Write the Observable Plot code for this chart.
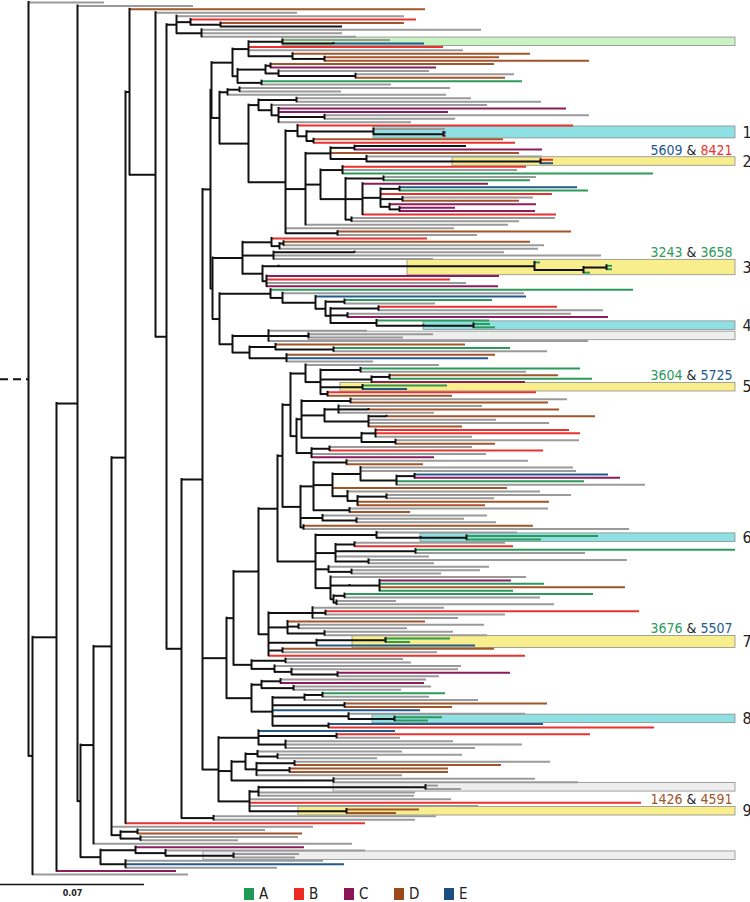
<!DOCTYPE html>
<html><head><meta charset="utf-8">
<script src="https://cdn.jsdelivr.net/npm/d3@7"></script>
<script src="https://cdn.jsdelivr.net/npm/@observablehq/plot@0.6"></script>
<style>
body{margin:0;background:#fff;}
#wrap{width:750px;position:relative;}
#legend{display:flex;height:16px;align-items:center;padding-left:244px;font-family:"Liberation Sans Narrow","DejaVu Sans Condensed","Open Sans",sans-serif;font-size:15px;color:#222;}
#legend .item{display:flex;align-items:center;width:50px;}
#legend .sw{display:inline-block;width:10px;height:12px;margin-right:5px;}
</style></head><body><div id="wrap"></div><script>
// ---- clade legend ----
const cladeNames = ["A","B","C","D","E"];
const cladeColors = ["#2b9a5a","#e8322f","#8c1c5e","#a2552a","#225a8c"];
const legendColors = ["#1e9a55","#ef2923","#8b1557","#9a4a1a","#1d4e80"];
const otherNames = ["g","k"];          // unassigned (grey), dark
const otherColors = ["#9a9a9a","#151515"];

// ---- distance unit: tree values are in units where the 0.07 scale bar = 144 units
const DIST = 0.07 / 144;
const SCALE_BAR = 0.07;

// ---- highlighted sequence pairs ----
const boxIds    = ["0","1","2","3","4","g1","5","6","7","8","11","9","10"];
const boxStart  = [282,373,452,407,423,308,340,420,352,372,333,298,203];
const boxKind   = ["green","cyan","yellow","yellow","cyan","gray","yellow","cyan","yellow","cyan","gray","yellow","gray"];
const boxNumber = ["","1","2","3","4","","5","6","7","8","","9",""];
const boxKinds  = ["green","cyan","yellow","gray"];
const boxFills  = ["#c9f3c3","#8fe0e2","#f8ee8c","#eeeeee"];

const pairBox   = ["2","3","5","7","9"];
const pairFirst = ["5609","3243","3604","3676","1426"];
const pairSecond= ["8421","3658","5725","5507","4591"];
const pairFirstClade  = ["E","A","A","A","D"];
const pairSecondClade = ["B","A","E","E","D"];

// ---- tree (leaf = clade:distance[#box], node = (...):distance; distances from the stem origin) ----
const T176 = "(g:404,(B:416,(D:404,k:342):220):190,(g:481,g:342,g:356):201):176";
const T248 = "((g:390#0,(E:424#0):333):282,B:443,g:463,(D:530,(D:499,D:589):324):292):248";
const T237 = "(((D:494,C:436):270,(g:429,(g:514,D:505):355):278):265,(A:522,g:391):261):237";
const T227 = "((g:450,g:341):239,g:446):227";
const T258 = "((g:471,g:541):296,(g:487,(C:566,C:448,(g:589,g:455):324,g:411):278):271):258";
const T330 = "((k:466,C:542):354,D:519,(g:542,(B:553#2,E:553#2):540):366):330";
const T350 = "((g:536,A:530):383,(C:488,((E:577,A:588):399,B:552,(g:533,D:519):402,(C:536,(C:455,C:535):399):389):380,B:556):362,(g:555,g:519):351):345";
const T342 = "(B:526,g:517,A:653):342";
const T285a = "(B:573,((g:445#1,(E:446#1,B:446#1):443):373,(D:503,B:515):313):306):297";
const T285z = "(D:571,g:477):337";
const T271 = "(B:427,((D:530,g:544):283,g:538):279):271";
const T273 = "((g:504):354,g:601,g:433):273";
const T278 = "((A:540#3,((A:612#3,A:612#3):606,A:590#3):583):534):278";
const T266 = "(C:499,B:450,g:466,C:498):266";
const T270 = "(A:633,(g:524,(E:526,((A:492,g:435):344,((B:557,g:603):378,(g:571,C:608):347,(A:489,((A:490#4,A:495#4):473):423):376):330):325):315):282):270";
const T232c = "((g:367,(g:433#g1,g:403#g1):308,g:588):268,((D:465,(A:510,g:547):333):275,(D:495,E:488,g:373):286):249):232";
const T305 = "(g:439,((A:580,g:526):360,((D:558,A:592):389,C:525):371,(A:447#5,E:407#5):362,(B:536,D:452):327):320):305";
const T296 = "(((g:567,D:548):350,((g:482,(D:559):368,g:434):338,((D:595):386,g:496,g:549,D:462):368):324,((B:569,B:580,g:472):375,(g:579,D:495):395):361):301,((g:472,B:543):329,g:486,C:434):311):296";
const T300 = "(((g:528,D:423):346,((g:573,g:576,((E:608,C:620):414,A:584,g:645):396):360,D:507,(g:540,((g:571,g:494):386,D:549,D:485):357):347):332,(g:548,D:410):349):313,(g:487,(g:464,g:496):356):322,(D:533,g:629):303):300";
const T315 = "((g:517,((A:598#6,A:541#6):466):420):376,((g:505,B:513):354,(A:735,g:585):415,g:429,(g:627,g:434):368):335,(g:489,(g:480,g:441):351):328,(g:526,((C:511,A:544,D:625,A:513):379):349,((A:593,g:540):344,(g:396,g:554):336):333):330):315";
const T312 = "(g:444,(B:639,g:505):325,g:458):312";
const T287 = "(D:425,(g:484,g:407):298,(g:453,g:487):324):287";
const T316 = "((A:450#7,A:410#7):385,E:475#7):316";
const T268tail = "(D:494,g:437):282,B:525";
const T251 = "((g:403,g:411):285,(g:461,(g:458,(C:510,g:439):337):291):274):251";
const T251c = "(((g:426,C:424):280,(g:431,g:401):293):261,(((A:445,g:429):322,g:478):304,(D:547,D:452):344,E:420,(g:525,(A:442#8,A:428#8):394):348,(E:543,B:654):328):272):251";
const T258m = "(E:395,(B:590,g:400):336,(g:453,g:522,g:475):285):258";
const T245 = "((g:402,(g:462,g:377):277):257,((g:550,D:501):294,(D:448,D:448):289,g:402):256):245";
const T249 = "(((g:438#11,g:461#11):425,g:415,g:414):258,g:451,B:641,g:478,(D:419#9,D:396#9):346):249";
const T213 = "(g:436,g:415):213";
const T120 = "((g:265,D:302):137,(g:298,g:238):140):120";
const T100 = "((C:304,(g:365,(g:299#10,g:295#10):233):165):135,(g:323,E:344,g:277):125):100";

// assemble
const T320 = "(" + T342 + "," + T350 + "):320";
const T285 = "(" + T285a + ",(" + T330 + "," + T320 + ",g:508):305,g:454," + T285z + "):285";
const T211 = "((" + T248 + "," + T237 + "):232,(" + T227 + ",(" + T258 + "," + T285 + "):248):219):211";
const T242 = "(" + T271 + "," + T273 + ",(" + T278 + "," + T266 + "):262):242";
const T219b = "(" + T270 + "," + T232c + "):219";
const T268 = "(" + T312 + "," + T287 + "," + T316 + "," + T268tail + "):268";
const T226 = "((((((" + T305 + "," + T296 + "):290," + T300 + "):282," + T315 + "):277," + T268 + "):258," + T251 + "):233," + T251c + "):226";
const T218 = "(" + T258m + ",(" + T245 + ",(g:535,g:578):333):231," + T249 + "):218";
const T210 = "(" + T211 + ",(" + T242 + "," + T219b + "):212):210";
const T202 = "(" + T210 + "," + T226 + "," + T218 + "):202";
const T166 = "(" + T176 + ",(" + T202 + "," + T213 + "):181):166";
const N125 = "((D:425,(g:297," + T166 + "):155):129,B:365):125";
const N93 = "((" + N125 + ",g:313," + T120 + "):111,g:352):93";
const TREE = "(g:104,(((g:193,(" + N93 + "," + T100 + "):80):77,C:176):56,g:188):32):28";

// ---- parser ----
function parse(s){
  let i=0;
  function node(){
    const n={children:[]};
    if(s[i]==="("){ i++; n.children.push(node()); while(s[i]===","){i++; n.children.push(node());} i++; }
    else { const st=i; while(i<s.length && !":,()".includes(s[i])) i++; n.clade=s.slice(st,i); }
    if(s[i]===":"){ i++; const st=i; while(i<s.length && /[0-9.]/.test(s[i])) i++; n.depth=+s.slice(st,i);
      if(s[i]==="#"){ i++; const b=i; while(i<s.length && /[A-Za-z0-9]/.test(s[i])) i++; n.box=s.slice(b,i);} }
    return n;
  }
  return node();
}
function colorOf(c){
  const a=cladeNames.indexOf(c); if(a>=0) return cladeColors[a];
  const b=otherNames.indexOf(c); return b>=0?otherColors[b]:"#999";
}
const root = parse(TREE);
const leaves=[]; let idx=0;
(function lay(n){
  if(!n.children.length){ n.y=idx++; leaves.push(n); }
  else { n.children.forEach(lay); n.y=(n.children[0].y+n.children[n.children.length-1].y)/2; }
})(root);
const nLeaves = leaves.length;
const leafSegs=[], nodeSegs=[], vSegs=[];
(function walk(n,pd){
  if(pd!=null){
    const seg={x1:pd*DIST,x2:n.depth*DIST,y:n.y};
    if(n.children.length) nodeSegs.push(seg); else { seg.stroke=colorOf(n.clade); leafSegs.push(seg); }
  }
  if(n.children.length){
    vSegs.push({x:n.depth*DIST,y1:n.children[0].y,y2:n.children[n.children.length-1].y});
    n.children.forEach(c=>walk(c,n.depth));
  }
})(root,null);
const stem=[{x1:0,x2:root.depth*DIST,y:root.y}];

const maxDepth = d3.max(leaves,d=>d.depth);
const boxes = boxIds.map((id,i)=>{
  const ls = leaves.filter(l=>l.box===id);
  return {id, x1:boxStart[i]*DIST, x2:maxDepth*DIST, y1:d3.min(ls,l=>l.y)-0.75, y2:d3.max(ls,l=>l.y)+0.75,
          fill: boxFills[boxKinds.indexOf(boxKind[i])], num: boxNumber[i]};
});
const numLabels = boxes.filter(b=>b.num!=="").map(b=>({x:b.x2, y:(b.y1+b.y2)/2, text:b.num}));
const pairs = pairBox.map((id,i)=>{ const b=boxes.find(d=>d.id===id);
  return {x:b.x2, y:b.y1, text: pairFirst[i]+" & "+pairSecond[i], c1: colorOf(pairFirstClade[i]), c2: colorOf(pairSecondClade[i]), a:pairFirst[i], b:pairSecond[i]}; });

const font = "Liberation Sans Narrow, DejaVu Sans Condensed, Open Sans, sans-serif";
const yBar = nLeaves - 1 + 2.9;
const chart = Plot.plot({
  width:750, height:886, margin:0,
  x:{domain:[0,750*DIST], range:[0,750], axis:null},
  y:{domain:[0,nLeaves-1], range:[2,874], axis:null},
  marks:[
    Plot.rect(boxes,{x1:"x1",x2:"x2",y1:"y1",y2:"y2",fill:"fill",stroke:"#8c8c8c",strokeWidth:0.8}),
    Plot.ruleY(leafSegs,{y:"y",x1:"x1",x2:"x2",stroke:"stroke",strokeWidth:2}),
    Plot.ruleY(nodeSegs,{y:"y",x1:"x1",x2:"x2",stroke:"#111",strokeWidth:2}),
    Plot.ruleX(vSegs,{x:"x",y1:"y1",y2:"y2",stroke:"#111",strokeWidth:2,strokeLinecap:"square"}),
    Plot.ruleY(stem,{y:"y",x1:"x1",x2:"x2",stroke:"#111",strokeWidth:2,strokeDasharray:"8,5"}),
    Plot.text(numLabels,{x:"x",y:"y",text:"text",textAnchor:"start",dx:7,fontSize:16,fill:"#222",fontFamily:font}),
    Plot.text(pairs,{x:"x",y:"y",text:"text",textAnchor:"end",dx:-3,dy:-7,fontSize:14,fill:"#222",fontFamily:font}),
    Plot.ruleY([yBar],{x1:0,x2:SCALE_BAR,stroke:"#111",strokeWidth:1.5}),
    Plot.text([SCALE_BAR],{x:SCALE_BAR/2,y:yBar,text:d=>String(d),dy:9,fontSize:8,fontWeight:"bold",fill:"#222",fontFamily:"DejaVu Sans, sans-serif"})
  ]
});
chart.style.overflow="visible";
// colour the two sequence numbers of each pair label
chart.querySelectorAll("text").forEach(t=>{
  const p = pairs.find(d=>d.text===t.textContent);
  if(!p) return;
  t.textContent="";
  const NS="http://www.w3.org/2000/svg";
  [[p.a,p.c1],[" & ","#222"],[p.b,p.c2]].forEach(([s,c])=>{const ts=document.createElementNS(NS,"tspan"); ts.textContent=s; ts.setAttribute("fill",c); t.appendChild(ts);});
});
const wrap=document.getElementById("wrap");
wrap.appendChild(chart);
const leg=document.createElement("div"); leg.id="legend";
cladeNames.forEach((n,i)=>{const it=document.createElement("div"); it.className="item";
  it.innerHTML='<span class="sw" style="background:'+legendColors[i]+'"></span><span>'+n+'</span>'; leg.appendChild(it);});
wrap.appendChild(leg);
</script></body></html>
